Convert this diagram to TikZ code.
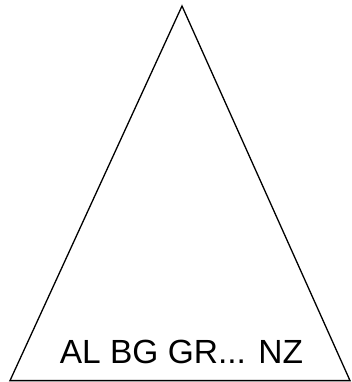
\documentclass[tikz,border=0pt]{standalone}
\usepackage{fontspec}
\setmainfont{Liberation Sans}
\begin{document}
\begin{tikzpicture}[x=1pt,y=-1pt,
  edge/.style={draw=black,line width=1.3pt,line join=miter},
  lbl/.style={font=\fontsize{33.5}{40}\selectfont,inner sep=0pt,anchor=base}]
\useasboundingbox (0,0) rectangle (352,382);
\coordinate (apex) at (182,6);
\coordinate (bl) at (10,380.6);
\coordinate (br) at (350,380.6);
\draw[edge] (apex) -- (bl) -- (br) -- cycle;
\node[lbl] (txt) at (181.5,363) {AL BG GR... NZ};
\end{tikzpicture}
\end{document}
